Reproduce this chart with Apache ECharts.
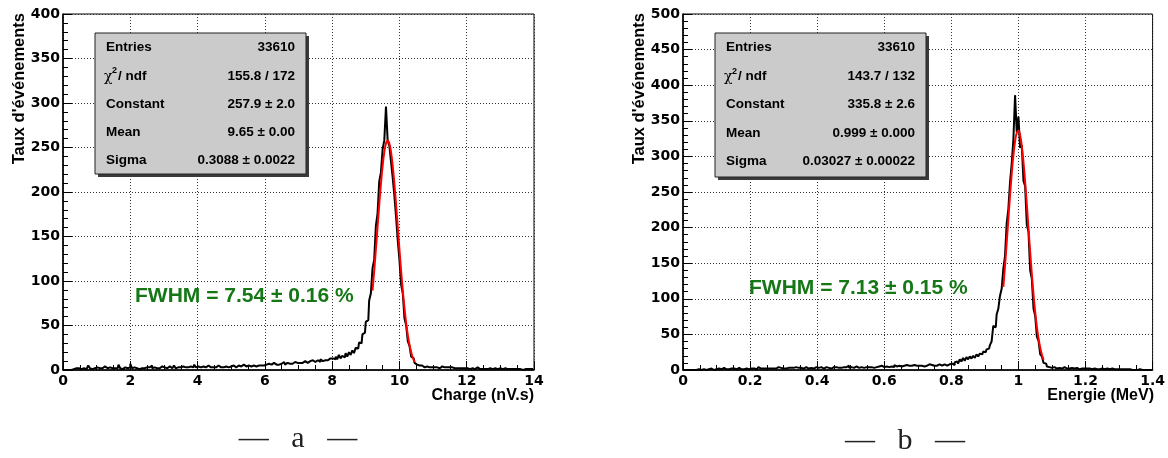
<!DOCTYPE html>
<html>
<head>
<meta charset="utf-8">
<script src="https://cdn.jsdelivr.net/npm/echarts@6/dist/echarts.min.js"></script>
<style>
html,body{margin:0;padding:0;background:#fff;}
#chart{width:1168px;height:458px;}
</style>
</head>
<body>
<div id="chart"></div>
<script>
// ---------------- DATA ----------------
// Panel a: Charge histogram (bins of 0.05 nV.s from 0 to 14)
const chargeBinStart = 0;
const chargeBinWidth = 0.05;
const chargeCounts = [
  0,0,0,0,0,0,1,2,1,2,
  1,3,2,1,2,5,2,1,2,2,
  3,2,1,2,4,2,2,3,1,2,
  2,3,2,6,2,1,3,2,2,3,
  7,2,3,2,3,1,2,4,2,3,
  2,3,5,2,3,2,3,2,4,2,
  3,2,3,4,2,3,5,2,3,3,
  2,4,3,2,3,4,2,3,6,3,
  4,3,2,4,3,3,5,3,4,3,
  3,4,5,3,4,3,4,5,3,4,
  4,5,3,4,5,4,4,6,4,5,
  5,4,6,5,4,6,5,5,7,5,
  6,5,7,6,5,8,6,7,6,7,
  7,9,6,8,7,8,7,9,8,8,
  8,9,8,10,9,8,10,9,11,9,
  10,11,9,12,10,11,12,11,13,12,
  13,12,15,12,17,13,16,14,19,15,
  20,17,22,19,25,24,31,30,40,42,
  54,56,78,86,114,124,162,176,212,222,
  248,258,296,258,252,234,216,196,172,146,
  124,96,86,58,50,32,27,15,13,8,
  6,5,4,5,3,4,4,3,4,3,
  3,4,3,2,3,4,3,2,3,3,
  2,3,2,3,2,2,3,2,2,3,
  2,1,2,2,1,2,3,1,2,1,
  1,2,1,2,1,1,2,1,1,2,
  1,1,2,1,1,1,2,1,1,1,
  1,1,1,0,1,1,1,1,0,1
];
// Gaussian fit curve
const chargeFitX = [9.20,9.25,9.30,9.35,9.40,9.45,9.50,9.55,9.60,9.65,9.70,9.75,9.80,9.85,9.90,9.95,10.00,10.05,10.10,10.15,10.20,10.25,10.30,10.35,10.40,10.45];
const chargeFitY = [89.2,111.5,135.7,160.8,185.8,209.1,229.2,244.7,254.5,257.9,254.5,244.7,229.2,209.1,185.8,160.8,135.7,111.5,89.2,69.5,52.8,39.0,28.1,19.8,13.5,9.0];

// Panel b: Energy histogram (bins of 0.005 MeV from 0 to 1.4)
const energyBinStart = 0;
const energyBinWidth = 0.005;
const energyCounts = [
  0,0,0,0,0,0,0,0,0,1,
  0,2,1,0,1,1,2,1,0,1,
  1,2,1,1,3,1,2,1,2,1,
  2,1,2,3,1,2,1,2,2,1,
  2,3,2,1,2,4,2,2,3,2,
  2,3,2,2,3,2,4,2,3,2,
  3,2,3,2,3,3,2,4,3,2,
  3,2,3,4,2,3,3,2,3,4,
  3,3,4,2,3,4,3,3,2,4,
  3,4,3,5,3,4,3,4,6,3,
  4,3,4,5,3,4,4,3,5,4,
  4,5,4,3,5,4,5,4,6,4,
  6,5,4,6,5,4,7,5,6,5,
  5,6,5,7,6,5,6,7,5,6,
  6,7,6,5,7,6,8,6,7,6,
  7,6,8,7,6,8,7,6,8,7,
  9,7,11,12,9,15,12,17,13,18,
  15,19,16,20,17,22,19,23,22,26,
  25,29,30,35,40,62,60,78,86,104,
  114,142,160,206,226,264,290,324,386,334,
  356,312,316,266,258,204,194,140,128,86,
  76,47,41,22,19,10,9,5,4,3,
  3,4,2,3,3,2,3,4,2,3,
  2,3,2,2,3,2,1,2,3,2,
  2,1,2,1,2,2,1,2,1,2,
  1,1,2,1,1,2,1,1,1,1,
  1,1,0,1,1,0,1,0,1,0,
  0,0,1,0,0,0,0,0,0,0
];
const energyFitX = [0.955,0.960,0.965,0.970,0.975,0.980,0.985,0.990,0.995,1.000,1.005,1.010,1.015,1.020,1.025,1.030,1.035,1.040,1.045,1.050,1.055,1.060,1.065,1.070,1.075];
const energyFitY = [116.8,146.4,178.7,212.2,245.2,275.8,301.8,321.3,332.9,335.6,329.3,314.3,292.0,264.0,232.2,198.8,165.6,134.2,105.8,81.2,60.6,44.1,31.2,21.4,14.4];

// Stats boxes
const statsNames = ['Entries', 'χ2 / ndf', 'Constant', 'Mean', 'Sigma'];
const statsLeftValues = ['33610', '155.8 / 172', '257.9 ± 2.0', '9.65 ± 0.00', '0.3088 ± 0.0022'];
const statsRightValues = ['33610', '143.7 / 132', '335.8 ± 2.6', '0.999 ± 0.000', '0.03027 ± 0.00022'];

const fwhmLeft = 'FWHM = 7.54 ± 0.16 %';
const fwhmRight = 'FWHM = 7.13 ± 0.15 %';
const xTitleLeft = 'Charge (nV.s)';
const xTitleRight = 'Energie (MeV)';
const yTitle = 'Taux d\'événements';
const captionLeft = '—   a   —';
const captionRight = '—   b   —';

// Axis ranges
const xLeftRange = [0, 14, 2];
const yLeftRange = [0, 400, 50];
const xRightRange = [0, 1.4, 0.2];
const yRightRange = [0, 500, 50];

// ---------------- BUILD ----------------
function histData(start, width, counts) {
  return counts.map((c, i) => [start + (i + 0.5) * width, c]);
}
function pairs(xs, ys) { return xs.map((x, i) => [x, ys[i]]); }

const chart = echarts.init(document.getElementById('chart'), null, {renderer: 'canvas'});

const tickFont = {fontFamily: 'DejaVu Sans', fontWeight: 'bold', fontSize: 14, color: '#000'};
const gridLine = {show: true, lineStyle: {type: [1, 2], color: '#333', width: 1}};

function xAxis(idx, r) {
  return {
    type: 'value', gridIndex: idx, min: r[0], max: r[1], interval: r[2],
    axisLine: {show: true, onZero: false, lineStyle: {color: '#000', width: 1.5}},
    axisTick: {show: true, inside: true, length: 9, lineStyle: {color: '#000', width: 1}},
    minorTick: {show: true, splitNumber: 4, length: 5, lineStyle: {color: '#000', width: 1}},
    axisLabel: Object.assign({margin: 4, showMinLabel: true, showMaxLabel: true}, tickFont),
    splitLine: gridLine
  };
}
function yAxis(idx, r) {
  return {
    type: 'value', gridIndex: idx, min: r[0], max: r[1], interval: r[2],
    axisLine: {show: true, onZero: false, lineStyle: {color: '#000', width: 1.5}},
    axisTick: {show: true, inside: true, length: 9, lineStyle: {color: '#000', width: 1}},
    minorTick: {show: true, splitNumber: 5, length: 5, lineStyle: {color: '#000', width: 1}},
    axisLabel: Object.assign({margin: 3, showMinLabel: true, showMaxLabel: true}, tickFont),
    splitLine: gridLine
  };
}

const sansBold = '"Liberation Sans", Arial, sans-serif';

function statsBox(x0, y0, w, h, values, rowY, lx, rx) {
  const els = [];
  els.push({type: 'rect', shape: {x: x0 + 3, y: y0 + 3, width: w, height: h}, style: {fill: '#3a3a3a'}, z: 10});
  els.push({type: 'rect', shape: {x: x0, y: y0, width: w, height: h}, style: {fill: '#cbcbcb', stroke: '#222', lineWidth: 1}, z: 11});
  statsNames.forEach((name, i) => {
    const y = rowY[i];
    if (name.indexOf('χ') === 0) {
      els.push({type: 'text', x: lx - 2, y: y + 1, z: 12, style: {text: 'χ', font: '14px "DejaVu Serif", serif', fill: '#000', textAlign: 'left', textVerticalAlign: 'middle'}});
      els.push({type: 'text', x: lx + 6, y: y - 5, z: 12, style: {text: '2', font: 'bold 9px ' + sansBold, fill: '#000', textAlign: 'left', textVerticalAlign: 'middle'}});
      els.push({type: 'text', x: lx + 12, y: y, z: 12, style: {text: name.slice(3), font: 'bold 13.5px ' + sansBold, fill: '#000', textAlign: 'left', textVerticalAlign: 'middle'}});
    } else {
      els.push({type: 'text', x: lx, y: y, z: 12, style: {text: name, font: 'bold 13.5px ' + sansBold, fill: '#000', textAlign: 'left', textVerticalAlign: 'middle'}});
    }
    els.push({type: 'text', x: rx, y: y, z: 12, style: {text: values[i], font: 'bold 13.5px ' + sansBold, fill: '#000', textAlign: 'right', textVerticalAlign: 'middle'}});
  });
  return els;
}

const graphics = [].concat(
  statsBox(95, 33, 211, 141, statsLeftValues, [47, 76, 104, 132, 160.5], 106, 295),
  statsBox(715, 33, 211, 144, statsRightValues, [47.5, 76.5, 104.5, 133, 161.5], 726, 915),
  [
    {type: 'text', x: 135, y: 296, z: 12, style: {text: fwhmLeft, font: 'bold 21px ' + sansBold, fill: '#167716', textAlign: 'left', textVerticalAlign: 'middle'}},
    {type: 'text', x: 749, y: 288, z: 12, style: {text: fwhmRight, font: 'bold 21px ' + sansBold, fill: '#167716', textAlign: 'left', textVerticalAlign: 'middle'}},
    {type: 'text', x: 534, y: 396, style: {text: xTitleLeft, font: 'bold 16px ' + sansBold, fill: '#000', textAlign: 'right', textVerticalAlign: 'middle'}},
    {type: 'text', x: 1154, y: 396, style: {text: xTitleRight, font: 'bold 16px ' + sansBold, fill: '#000', textAlign: 'right', textVerticalAlign: 'middle'}},
    {type: 'text', x: 19, y: 13, rotation: Math.PI / 2, style: {text: yTitle, font: 'bold 16.5px ' + sansBold, fill: '#000', textAlign: 'right', textVerticalAlign: 'middle'}},
    {type: 'text', x: 639, y: 13, rotation: Math.PI / 2, style: {text: yTitle, font: 'bold 16.5px ' + sansBold, fill: '#000', textAlign: 'right', textVerticalAlign: 'middle'}},
    {type: 'text', x: 298, y: 439, style: {text: captionLeft, font: '30px "Liberation Serif", serif', fill: '#222', textAlign: 'center', textVerticalAlign: 'middle'}},
    {type: 'text', x: 905, y: 441, style: {text: captionRight, font: '30px "Liberation Serif", serif', fill: '#222', textAlign: 'center', textVerticalAlign: 'middle'}}
  ]
);

chart.setOption({
  animation: false,
  backgroundColor: '#fff',
  grid: [
    {left: 63, top: 14, width: 471, height: 356, show: true, borderColor: '#000', borderWidth: 1, backgroundColor: 'transparent'},
    {left: 683, top: 14, width: 471, height: 356, show: true, borderColor: '#000', borderWidth: 1, backgroundColor: 'transparent'}
  ],
  xAxis: [xAxis(0, xLeftRange), xAxis(1, xRightRange)],
  yAxis: [yAxis(0, yLeftRange), yAxis(1, yRightRange)],
  series: [
    {type: 'line', xAxisIndex: 0, yAxisIndex: 0, step: 'middle', showSymbol: false, symbol: 'none',
     lineStyle: {color: '#000', width: 2}, data: histData(chargeBinStart, chargeBinWidth, chargeCounts), z: 3},
    {type: 'line', xAxisIndex: 0, yAxisIndex: 0, smooth: true, showSymbol: false, symbol: 'none',
     lineStyle: {color: '#ff0000', width: 2}, data: pairs(chargeFitX, chargeFitY), z: 4},
    {type: 'line', xAxisIndex: 1, yAxisIndex: 1, step: 'middle', showSymbol: false, symbol: 'none',
     lineStyle: {color: '#000', width: 2}, data: histData(energyBinStart, energyBinWidth, energyCounts), z: 3},
    {type: 'line', xAxisIndex: 1, yAxisIndex: 1, smooth: true, showSymbol: false, symbol: 'none',
     lineStyle: {color: '#ff0000', width: 2}, data: pairs(energyFitX, energyFitY), z: 4}
  ],
  graphic: graphics
});
</script>
</body>
</html>
